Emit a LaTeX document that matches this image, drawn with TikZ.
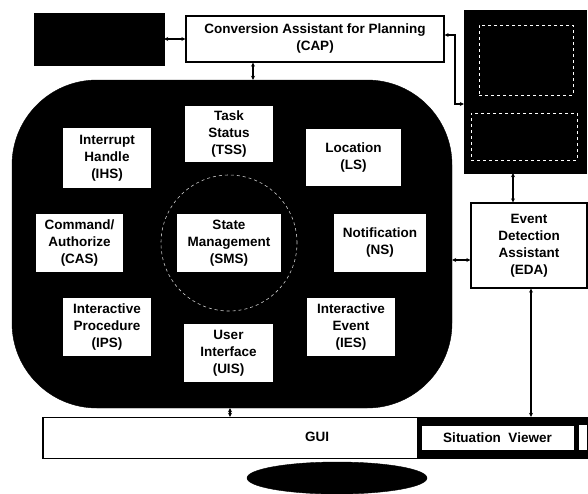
\documentclass[tikz,border=0pt]{standalone}
\usepackage{fontspec}
\setmainfont{Liberation Sans}
\usetikzlibrary{arrows.meta,shapes.geometric}
\begin{document}
\begin{tikzpicture}[x=1pt,y=-1pt,
  mod/.style={draw=black, fill=white, line width=1.2pt, font=\bfseries\fontsize{13.5}{17}\selectfont, align=center, inner sep=0pt},
  blk/.style={fill=black, draw=black, inner sep=0pt},
  link/.style={line width=1.2pt, {Stealth[length=4pt,width=4pt]}-{Stealth[length=4pt,width=4pt]}},
  dbox/.style={draw=white, dashed, line width=0.8pt, inner sep=0pt}]
\useasboundingbox (0,0) rectangle (588,493);
% big rounded region
\node[blk, rounded corners=85pt, minimum width=440pt, minimum height=328pt] (big) at (232,244) {};
\draw[gray!40, dashed, line width=0.6pt] (229,243) circle (68pt);
% modules
\node[mod, minimum width=90pt, minimum height=62pt] (ihs) at (107,158) {Interrupt\\Handle\\(IHS)};
\node[mod, minimum width=90pt, minimum height=58pt] (tss) at (229,134) {Task\\Status\\(TSS)};
\node[mod, minimum width=97pt, minimum height=59pt] (ls) at (353.5,157.5) {Location\\(LS)};
\node[mod, minimum width=89pt, minimum height=60pt] (cas) at (79.5,243) {Command/\\Authorize\\(CAS)};
\node[mod, minimum width=106pt, minimum height=60pt] (sms) at (229,243) {State\\Management\\(SMS)};
\node[mod, minimum width=94pt, minimum height=60pt] (ns) at (380,243) {Notification\\(NS)};
\node[mod, minimum width=90pt, minimum height=60pt] (ips) at (107,327) {Interactive\\Procedure\\(IPS)};
\node[mod, minimum width=91pt, minimum height=60pt] (uis) at (228.5,353) {User\\Interface\\(UIS)};
\node[mod, minimum width=90pt, minimum height=60pt] (ies) at (351,327) {Interactive\\Event\\(IES)};
% top boxes
\node[blk, minimum width=130pt, minimum height=52pt] (tl) at (99,39) {};
\node[mod, minimum width=258pt, minimum height=46pt] (cap) at (315,39) {Conversion Assistant for Planning\\(CAP)};
\node[blk, minimum width=122pt, minimum height=163pt] (rb) at (525,91.5) {};
\node[dbox, minimum width=94pt, minimum height=70pt] (rb1) at (526,60) {};
\node[dbox, minimum width=106pt, minimum height=47pt] (rb2) at (524,136.5) {};
\node[mod, minimum width=116pt, minimum height=85pt] (eda) at (529,245.5) {Event\\Detection\\Assistant\\(EDA)};
% GUI bar
\node[draw=black, fill=white, line width=1.4pt, minimum width=545pt, minimum height=41pt, inner sep=0pt] (gui) at (315.5,438) {};
\node[font=\bfseries\fontsize{13.5}{15}\selectfont] (guit) at (317,437) {GUI};
\node[blk, minimum width=171pt, minimum height=41pt] (svb) at (502.5,438) {};
\node[draw=black, fill=white, line width=0.8pt, minimum width=153pt, minimum height=25pt, inner sep=0pt, font=\bfseries\fontsize{13.5}{15}\selectfont] (sv) at (497.5,437.5) {Situation\ \ Viewer};
\node[fill=white, minimum width=8pt, minimum height=25pt, inner sep=0pt] (svs) at (583,437.5) {};
% ellipse
\node[blk, ellipse, minimum width=180pt, minimum height=32pt] (ell) at (337,478) {};
% connectors
\coordinate (xa) at (253,0);
\coordinate (xb) at (455,0);
\coordinate (xc) at (513,0);
\coordinate (xd) at (230,0);
\coordinate (xe) at (531,0);
\coordinate (ya) at (0,104);
\coordinate (yb) at (0,260);
\coordinate (yc) at (0,35);
\draw[link] (tl.east) -- (cap.west);
\draw[link] (xa |- cap.south) -- (xa |- big.north);
\draw[link] (cap.east |- yc) -- (xb |- yc) -- (xb |- ya) -- (rb.west |- ya);
\draw[link] (xc |- rb.south) -- (xc |- eda.north);
\draw[link] (big.east |- yb) -- (eda.west |- yb);
\draw[link] (xd |- big.south) -- (xd |- gui.north);
\draw[link] (xe |- eda.south) -- (xe |- gui.north);
\end{tikzpicture}
\end{document}
